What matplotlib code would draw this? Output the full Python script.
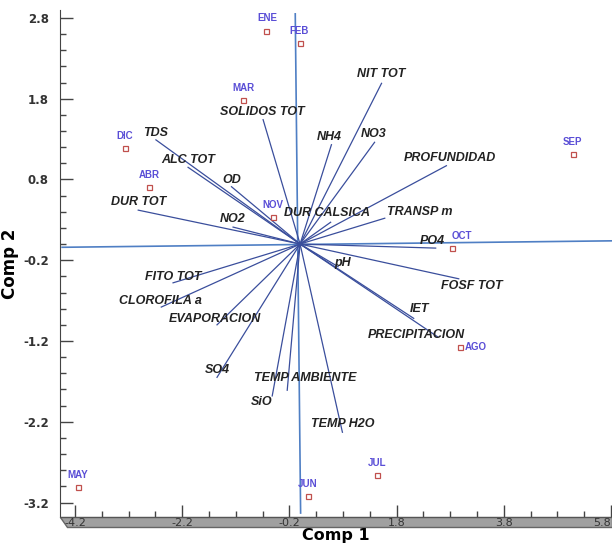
import numpy as np
import matplotlib.pyplot as plt
from matplotlib.patches import Polygon

plt.rcParams["axes.unicode_minus"] = False

# scores de los meses (Comp 1, Comp 2)
meses = ["ENE", "FEB", "MAR", "ABR", "MAY", "JUN", "JUL", "AGO", "SEP", "OCT", "NOV", "DIC"]
comp1_mes = [-0.63, -0.01, -1.06, -2.82, -4.14, 0.14, 1.43, 2.98, 5.09, 2.83, -0.50, -3.27]
comp2_mes = [2.64, 2.49, 1.78, 0.71, -3.01, -3.12, -2.86, -1.28, 1.11, -0.05, 0.33, 1.19]

# cargas de las variables
variables = ["SOLIDOS TOT", "TDS", "ALC TOT", "OD", "DUR TOT", "NO2", "DUR CALSICA",
             "NIT TOT", "NH4", "NO3", "PROFUNDIDAD", "TRANSP m", "PO4", "pH",
             "FOSF TOT", "IET", "PRECIPITACION", "TEMP H2O", "TEMP AMBIENTE", "SiO",
             "SO4", "EVAPORACION", "CLOROFILA a", "FITO TOT"]
comp1_var = [-0.69, -2.69, -2.09, -1.28, -3.02, -1.25, 0.57,
             1.52, 0.585, 1.39, 2.73, 1.58, 2.53, 0.71,
             2.96, 2.12, 2.57, 0.79, -0.24, -0.52,
             -1.55, -1.55, -2.59, -2.37]
comp2_var = [1.54, 1.29, 0.95, 0.71, 0.42, 0.21, 0.27,
             1.99, 1.23, 1.26, 0.97, 0.32, -0.05, -0.28,
             -0.43, -0.92, -1.15, -2.33, -1.81, -1.88,
             -1.65, -1.00, -0.78, -0.48]

# ejes de referencia del biplot
eje_h_x = [-4.44, 5.82]
eje_h_y = [-0.04, 0.04]
eje_v_x = [-0.09, 0.01]
eje_v_y = [2.85, -3.33]

xtick_vals = [-4.2, -2.2, -0.2, 1.8, 3.8, 5.8]
ytick_vals = [-3.2, -2.2, -1.2, -0.2, 0.8, 1.8, 2.8]

# desplazamiento de etiquetas en pixeles
offs_var = {"SOLIDOS TOT": (-1, 8), "TDS": (0, 7), "ALC TOT": (0, 7), "OD": (0, 7),
            "DUR TOT": (0, 8), "NO2": (0, 8), "DUR CALSICA": (-4, 9),
            "NIT TOT": (0, 9), "NH4": (-2, 8), "NO3": (-1, 8), "PROFUNDIDAD": (4, 8),
            "TRANSP m": (35, 6), "PO4": (-3, 7), "pH": (4, 4),
            "FOSF TOT": (13, -7), "IET": (6, 9), "PRECIPITACION": (-21, 2),
            "TEMP H2O": (0, 8), "TEMP AMBIENTE": (18, 12), "SiO": (-11, -6),
            "SO4": (0, 7), "EVAPORACION": (-2, 6), "CLOROFILA a": (-1, 6), "FITO TOT": (0, 6)}
offs_mes = {"OCT": (10, 12), "AGO": (5, 0), "ENE": (1, 13)}

fig = plt.figure(figsize=(6.12, 5.46), dpi=100)
ax = fig.add_axes([0.098, 0.053, 0.902, 0.929])
ax.set_xlim(-4.48, 5.82)
ax.set_ylim(-3.38, 2.9)

ax.plot(eje_h_x, eje_h_y, color="#4f7fc4", lw=1.2, zorder=1)
ax.plot(eje_v_x, eje_v_y, color="#4f7fc4", lw=1.2, zorder=1)

for v, x, y in zip(variables, comp1_var, comp2_var):
    ax.plot([0, x], [0, y], color="#3a4e9c", lw=0.9, zorder=2)
    dx, dy = offs_var[v]
    ax.annotate(v, (x, y), xytext=(dx, dy), textcoords="offset pixels",
                ha="center", va="center", fontsize=9, style="italic",
                weight="bold", family="Liberation Sans", color="#222222", zorder=3)

ax.plot(comp1_mes, comp2_mes, "s", ms=3.6, mfc="white", mec="#c0504d", mew=0.9, ls="none", zorder=4)
for m, x, y in zip(meses, comp1_mes, comp2_mes):
    dx, dy = offs_mes.get(m, (0, 12))
    ha = "left" if m == "AGO" else "center"
    ax.annotate(m, (x, y), xytext=(dx, dy), textcoords="offset pixels",
                ha=ha, va="center", fontsize=7, weight="bold",
                family="Liberation Sans", color="#5a4ed6", zorder=5)

# ejes
ax.spines["top"].set_visible(False)
ax.spines["right"].set_visible(False)
ax.spines["left"].set_color("#444444")
ax.spines["bottom"].set_color("#555555")
ax.set_xticks(xtick_vals)
ax.set_xticks(np.arange(-4.2, 5.9, 0.5), minor=True)
ax.set_yticks(ytick_vals)
ax.set_yticks(np.arange(-3.2, 2.9, 0.2), minor=True)
ax.set_xticklabels([f"{v:.1f}" for v in xtick_vals])
ax.set_yticklabels([f"{v:.1f}" for v in ytick_vals])
ax.tick_params(axis="both", which="major", direction="in", length=9, width=1, color="#444444")
ax.tick_params(axis="both", which="minor", direction="in", length=4, width=1, color="#444444")
ax.tick_params(axis="x", pad=1, labelsize=8, labelcolor="#333333")
ax.tick_params(axis="y", pad=8, labelsize=8.5, labelcolor="#333333")
for t in ax.get_yticklabels():
    t.set_fontweight("bold")
ax.get_xticklabels()[-1].set_horizontalalignment("right")

# banda gris del eje x
band = Polygon([(0.0, 0.0), (1.0, 0.0), (1.0, -0.019), (0.012, -0.019)],
               closed=True, transform=ax.transAxes, clip_on=False,
               facecolor="#a0a0a0", edgecolor="#666666", lw=1, zorder=0)
ax.add_patch(band)

ax.set_xlabel("Comp 1", fontsize=11.5, weight="bold", labelpad=0)
ax.set_ylabel("Comp 2", fontsize=12, weight="bold", labelpad=3)

fig.savefig("out.png", dpi=100)
